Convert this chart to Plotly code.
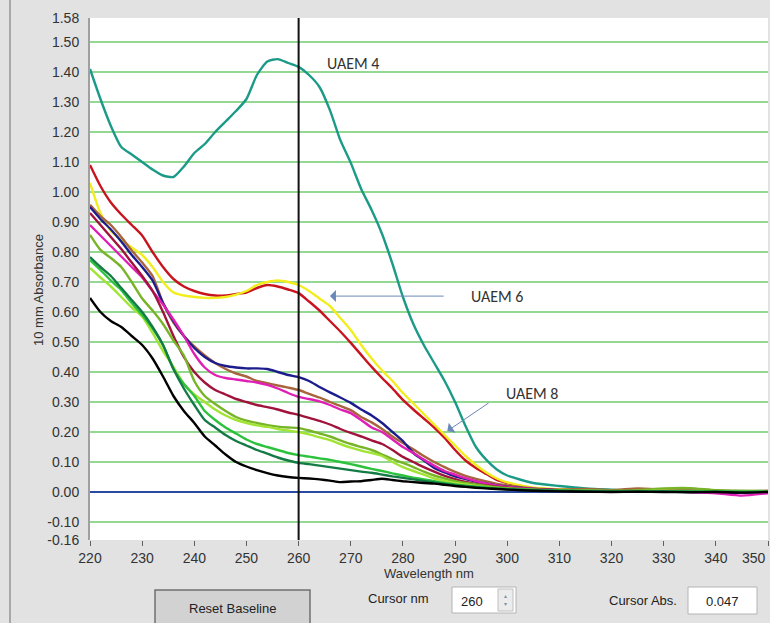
import plotly.graph_objects as go

# ---------------- data ----------------
wavelength = [220, 222, 224, 226, 228, 230, 232, 234, 236, 238, 240, 242, 244, 246, 248,
              250, 252, 254, 256, 258, 260, 262, 264, 266, 268, 270, 272, 274, 276, 278,
              280, 282, 284, 286, 288, 290, 292, 294, 296, 298, 300,
              305, 310, 315, 320, 325, 330, 335, 340, 345, 350]

teal = [1.41, 1.31, 1.22, 1.15, 1.125, 1.10, 1.075, 1.055, 1.05, 1.085, 1.13, 1.16, 1.20, 1.235, 1.27,
        1.31, 1.39, 1.435, 1.443, 1.43, 1.417, 1.39, 1.35, 1.273, 1.173, 1.097, 1.01, 0.94, 0.86, 0.76,
        0.65, 0.56, 0.49, 0.43, 0.37, 0.30, 0.22, 0.15, 0.107, 0.075, 0.055,
        0.03, 0.02, 0.012, 0.008, 0.005, 0.006, 0.004, 0.003, 0.002, 0.002]
red = [1.09, 1.02, 0.965, 0.925, 0.89, 0.855, 0.80, 0.75, 0.71, 0.685, 0.67, 0.66, 0.655, 0.655, 0.66,
       0.665, 0.68, 0.69, 0.685, 0.675, 0.663, 0.635, 0.605, 0.57, 0.535, 0.497, 0.457, 0.417, 0.38, 0.345,
       0.307, 0.275, 0.245, 0.215, 0.18, 0.14, 0.105, 0.08, 0.06, 0.04, 0.03,
       0.013, 0.008, 0.006, 0.005, 0.004, 0.004, 0.003, 0.003, 0.002, 0.002]
yellow = [1.03, 0.93, 0.87, 0.84, 0.815, 0.79, 0.75, 0.70, 0.665, 0.655, 0.65, 0.647, 0.647, 0.65, 0.658,
          0.67, 0.69, 0.70, 0.705, 0.70, 0.69, 0.67, 0.645, 0.62, 0.58, 0.54, 0.49, 0.445, 0.405, 0.37,
          0.33, 0.295, 0.26, 0.225, 0.19, 0.155, 0.12, 0.09, 0.065, 0.045, 0.032,
          0.014, 0.009, 0.006, 0.005, 0.004, 0.004, 0.003, 0.002, 0.002, 0.002]
brown = [0.957, 0.92, 0.89, 0.85, 0.805, 0.765, 0.72, 0.63, 0.565, 0.52, 0.485, 0.455, 0.43, 0.41, 0.395,
         0.385, 0.37, 0.363, 0.355, 0.348, 0.34, 0.327, 0.315, 0.30, 0.287, 0.273, 0.25, 0.232, 0.21, 0.185,
         0.163, 0.142, 0.12, 0.10, 0.083, 0.067, 0.054, 0.044, 0.035, 0.027, 0.022,
         0.012, 0.008, 0.01, 0.006, 0.012, 0.008, 0.005, 0.004, 0.003, 0.004]
navy = [0.95, 0.91, 0.875, 0.835, 0.79, 0.75, 0.705, 0.63, 0.57, 0.52, 0.48, 0.45, 0.43, 0.42, 0.415,
        0.412, 0.412, 0.41, 0.40, 0.39, 0.383, 0.37, 0.35, 0.332, 0.315, 0.297, 0.275, 0.255, 0.23, 0.20,
        0.17, 0.13, 0.105, 0.08, 0.065, 0.052, 0.043, 0.035, 0.028, 0.022, 0.018,
        0.01, 0.005, 0.003, 0.002, 0.004, 0.002, 0.0, -0.002, -0.003, 0.0]
magenta = [0.89, 0.855, 0.82, 0.785, 0.75, 0.715, 0.67, 0.625, 0.575, 0.52, 0.46, 0.415, 0.39, 0.38, 0.375,
           0.37, 0.365, 0.357, 0.345, 0.33, 0.317, 0.31, 0.302, 0.29, 0.275, 0.263, 0.24, 0.215, 0.20, 0.175,
           0.15, 0.13, 0.108, 0.088, 0.07, 0.058, 0.046, 0.036, 0.028, 0.022, 0.017,
           0.01, 0.006, 0.004, 0.003, 0.002, 0.003, 0.0, -0.004, -0.012, -0.004]
maroon = [0.93, 0.89, 0.85, 0.81, 0.765, 0.72, 0.67, 0.60, 0.52, 0.45, 0.40, 0.365, 0.34, 0.325, 0.31,
          0.30, 0.29, 0.283, 0.275, 0.265, 0.257, 0.247, 0.237, 0.225, 0.21, 0.197, 0.185, 0.172, 0.16, 0.14,
          0.117, 0.10, 0.083, 0.068, 0.054, 0.043, 0.034, 0.027, 0.022, 0.018, 0.014,
          0.009, 0.006, 0.004, 0.003, 0.003, 0.002, 0.002, 0.001, 0.0, 0.001]
olive = [0.857, 0.807, 0.78, 0.75, 0.70, 0.645, 0.605, 0.56, 0.505, 0.455, 0.37, 0.32, 0.293, 0.27, 0.25,
         0.238, 0.23, 0.223, 0.218, 0.215, 0.213, 0.205, 0.195, 0.185, 0.172, 0.16, 0.15, 0.14, 0.125, 0.11,
         0.097, 0.083, 0.068, 0.055, 0.045, 0.036, 0.03, 0.025, 0.02, 0.016, 0.013,
         0.008, 0.006, 0.005, 0.004, 0.006, 0.012, 0.013, 0.006, 0.004, 0.003]
lime = [0.747, 0.715, 0.685, 0.65, 0.615, 0.585, 0.53, 0.47, 0.417, 0.36, 0.325, 0.30, 0.275, 0.255, 0.24,
        0.23, 0.222, 0.217, 0.21, 0.205, 0.20, 0.192, 0.182, 0.173, 0.16, 0.148, 0.138, 0.13, 0.12, 0.10,
        0.083, 0.07, 0.058, 0.045, 0.037, 0.03, 0.025, 0.02, 0.016, 0.013, 0.01,
        0.007, 0.005, 0.004, 0.003, 0.003, 0.004, 0.003, 0.002, 0.002, 0.002]
green = [0.773, 0.74, 0.705, 0.673, 0.63, 0.59, 0.545, 0.49, 0.41, 0.36, 0.32, 0.27, 0.24, 0.215, 0.195,
         0.175, 0.16, 0.15, 0.14, 0.13, 0.123, 0.118, 0.112, 0.107, 0.10, 0.093, 0.085, 0.077, 0.07, 0.062,
         0.055, 0.048, 0.042, 0.036, 0.03, 0.025, 0.021, 0.018, 0.015, 0.012, 0.01,
         0.007, 0.005, 0.004, 0.003, 0.003, 0.003, 0.002, 0.002, 0.001, 0.001]
dark_green = [0.783, 0.75, 0.72, 0.68, 0.64, 0.60, 0.55, 0.49, 0.41, 0.345, 0.29, 0.24, 0.215, 0.19, 0.17,
              0.155, 0.14, 0.128, 0.115, 0.105, 0.097, 0.093, 0.088, 0.083, 0.078, 0.073, 0.068, 0.064, 0.058, 0.052,
              0.047, 0.042, 0.037, 0.032, 0.027, 0.023, 0.019, 0.016, 0.013, 0.011, 0.009,
              0.006, 0.004, 0.003, 0.002, 0.002, 0.002, 0.001, 0.001, 0.0, 0.001]
black = [0.647, 0.60, 0.57, 0.55, 0.52, 0.49, 0.445, 0.385, 0.32, 0.27, 0.23, 0.185, 0.155, 0.125, 0.10,
         0.085, 0.073, 0.063, 0.055, 0.05, 0.047, 0.045, 0.042, 0.038, 0.033, 0.035, 0.036, 0.04, 0.044, 0.04,
         0.036, 0.033, 0.03, 0.028, 0.024, 0.02, 0.017, 0.014, 0.012, 0.01, 0.008,
         0.004, 0.002, 0.001, 0.0, 0.001, 0.0, -0.001, 0.0, -0.002, 0.0]

series_names = ["UAEM 4", "red", "yellow", "brown", "navy", "magenta", "maroon",
                "olive", "lime", "green", "dark green", "black"]
series_values = [teal, red, yellow, brown, navy, magenta, maroon, olive, lime, green, dark_green, black]
series_colors = ["#1c9a88", "#c8141e", "#f2ee1e", "#a8643c", "#1c1c8c", "#e020b4", "#a0143c",
                 "#78b428", "#a2e434", "#2cc23c", "#147a46", "#000000"]

x_ticks = [220, 230, 240, 250, 260, 270, 280, 290, 300, 310, 320, 330, 340, 350]
y_ticks = [-0.16, -0.10, 0.00, 0.10, 0.20, 0.30, 0.40, 0.50, 0.60, 0.70, 0.80,
           0.90, 1.00, 1.10, 1.20, 1.30, 1.40, 1.50, 1.58]
grid_values = [-0.10, 0.10, 0.20, 0.30, 0.40, 0.50, 0.60, 0.70, 0.80, 0.90,
               1.00, 1.10, 1.20, 1.30, 1.40, 1.50]
cursor_nm = 260
cursor_abs = "0.047"

# ---------------- figure ----------------
FONT = "Liberation Sans Narrow, Liberation Sans, Arial, sans-serif"
W, H = 770, 623
ML, MR, MT, MB = 90, 2, 18, 83
PW, PH = W - ML - MR, H - MT - MB


def px(xp):
    return (xp - ML) / PW


def py(yp):
    return (H - MB - yp) / PH


fig = go.Figure()
for name, vals, col in zip(series_names, series_values, series_colors):
    fig.add_trace(go.Scatter(x=wavelength, y=vals, mode="lines", name=name,
                             line=dict(color=col, width=2.4, shape="spline", smoothing=0.6),
                             hoverinfo="skip"))

shapes = []
for g in grid_values:
    shapes.append(dict(type="line", xref="paper", yref="y", x0=0, x1=1, y0=g, y1=g,
                       line=dict(color="#94d894", width=2), layer="below"))
shapes.append(dict(type="line", xref="paper", yref="y", x0=0, x1=1, y0=0, y1=0,
                   line=dict(color="#2a4aa0", width=2), layer="below"))
shapes.append(dict(type="line", xref="x", yref="paper", x0=cursor_nm, x1=cursor_nm, y0=0, y1=1,
                   line=dict(color="#111111", width=2)))
# window chrome
shapes.append(dict(type="line", xref="paper", yref="paper", x0=px(10), x1=px(10), y0=py(0), y1=py(H),
                   line=dict(color="#a8a8a8", width=2)))
# Reset Baseline button
shapes.append(dict(type="rect", xref="paper", yref="paper", x0=px(155), x1=px(310), y0=py(590), y1=py(630),
                   fillcolor="#d2d2d2", line=dict(color="#707070", width=1.5)))
# Cursor nm box
shapes.append(dict(type="rect", xref="paper", yref="paper", x0=px(452), x1=px(516), y0=py(587), y1=py(613),
                   fillcolor="#ffffff", line=dict(color="#b4b4b4", width=1)))
shapes.append(dict(type="rect", xref="paper", yref="paper", x0=px(498), x1=px(513), y0=py(589), y1=py(611),
                   fillcolor="#ececec", line=dict(color="#c0c0c0", width=1)))
# Cursor Abs box
shapes.append(dict(type="rect", xref="paper", yref="paper", x0=px(688), x1=px(757), y0=py(587), y1=py(614),
                   fillcolor="#ffffff", line=dict(color="#b4b4b4", width=1)))


def label(text, x, y, size=13, color="#222222", **kw):
    d = dict(text=text, xref="paper", yref="paper", x=px(x), y=py(y), showarrow=False,
             xanchor="center", yanchor="middle", font=dict(family=FONT, size=size, color=color))
    d.update(kw)
    return d


LBL = "Carlito, Lato, sans-serif"
annotations = [
    label("10 mm Absorbance", 38, 290, color="#333333", textangle=-90),
    label("Reset Baseline", 232, 608),
    label("Cursor nm", 398, 598),
    label(str(cursor_nm), 472, 601),
    label("▴<br>▾", 505, 600, size=6, color="#8090a8"),
    label("Cursor Abs.", 643, 600),
    label(cursor_abs, 722, 601),
    # last x tick label, kept inside the window edge
    dict(text=str(x_ticks[-1]), xref="x", yref="paper", x=x_ticks[-1], y=py(548), showarrow=False,
         xanchor="right", yanchor="top", font=dict(family=FONT, size=14, color="#333333")),
    # series labels
    dict(text="UAEM 4", x=270.4, y=1.43, showarrow=False, xanchor="center", yanchor="middle",
         font=dict(family=LBL, size=16, color="#333333")),
    dict(text="UAEM 6", x=298.0, y=0.653, showarrow=False, xanchor="center", yanchor="middle",
         font=dict(family=LBL, size=16, color="#333333")),
    dict(text="UAEM 8", x=304.8, y=0.33, showarrow=False, xanchor="center", yanchor="middle",
         font=dict(family=LBL, size=16, color="#333333")),
    # arrows
    dict(text="", x=266.0, y=0.653, ax=288.1, ay=0.653, axref="x", ayref="y", showarrow=True,
         arrowhead=1, arrowsize=2, arrowwidth=1, arrowcolor="#6a88b8"),
    dict(text="", x=288.5, y=0.203, ax=296.7, ay=0.30, axref="x", ayref="y", showarrow=True,
         arrowhead=1, arrowsize=2, arrowwidth=1, arrowcolor="#6a88b8"),
]

fig.update_layout(
    width=W, height=H,
    margin=dict(l=ML, r=MR, t=MT, b=MB),
    paper_bgcolor="#e2e2e2", plot_bgcolor="#ffffff",
    showlegend=False,
    shapes=shapes, annotations=annotations,
    xaxis=dict(range=[220, 350], tickvals=x_ticks, ticktext=[str(v) for v in x_ticks],
               showgrid=False, zeroline=False, showline=False,
               ticks="outside", ticklen=5, tickcolor="#606060", tickwidth=1,
               tickfont=dict(family=FONT, size=14, color="#333333"),
               title=dict(text="Wavelength nm", standoff=4,
                          font=dict(family=FONT, size=13, color="#333333"))),
    yaxis=dict(range=[-0.16, 1.58], tickvals=y_ticks, ticktext=["%.2f" % v for v in y_ticks],
               showgrid=False, zeroline=False, showline=True, linecolor="#a0a0a0", linewidth=2,
               ticks="", ticklabelstandoff=6,
               tickfont=dict(family=FONT, size=14, color="#333333")),
)

fig.write_html("out.html", config={"displayModeBar": False},
               post_script="document.body.style.margin='0';document.body.style.overflow='hidden';")
